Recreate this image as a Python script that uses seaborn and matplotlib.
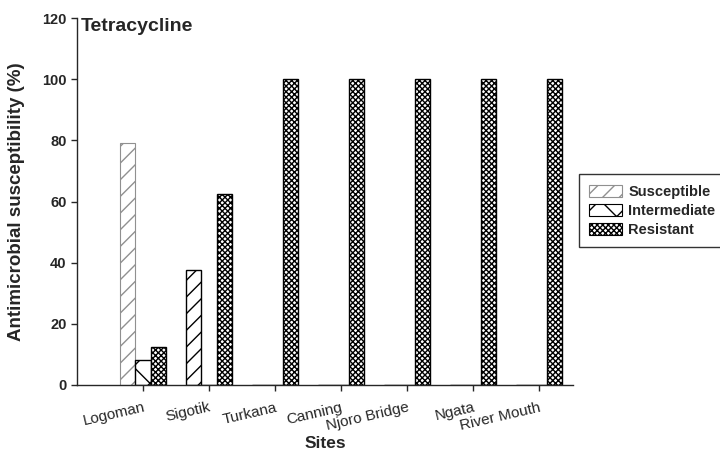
import pandas as pd
import matplotlib
matplotlib.use('Agg')
import matplotlib.pyplot as plt
import seaborn as sns
from matplotlib.patches import Patch

# Values (%)
sites = ['Logoman', 'Sigotik', 'Turkana', 'Canning', 'Njoro Bridge', 'Ngata', 'River Mouth']
susceptible = [79.2, 37.5, 0, 0, 0, 0, 0]
intermediate = [8.3, 0, 0, 0, 0, 0, 0]
resistant = [12.5, 62.5, 100, 100, 100, 100, 100]
categories = ['Susceptible', 'Intermediate', 'Resistant']
hatches = ['//', 'x', 'xxxxxx']

sns.set_style('ticks')
plt.rcParams['font.family'] = ['Liberation Sans', 'DejaVu Sans']
plt.rcParams['hatch.linewidth'] = 1.0

# long format for seaborn
df = pd.DataFrame({
    'site': sites * 3,
    'status': [c for c in categories for _ in sites],
    'value': susceptible + intermediate + resistant,
})

fig = plt.figure(figsize=(7.2, 4.54), dpi=100)
ax = fig.add_axes([0.107, 0.152, 0.689, 0.808])

sns.barplot(data=df, x='site', y='value', hue='status', hue_order=categories,
            palette=['white'] * 3, edgecolor='black', linewidth=1.0,
            width=0.7, ax=ax, errorbar=None, legend=False)

for cont, h in zip(ax.containers, hatches):
    for bar in cont:
        bar.set_hatch(h)
# the Logoman susceptible bar is drawn in grey in the original
ax.containers[0][0].set_edgecolor('#909090')
ax.containers[0][0].set_linewidth(0.8)

ax.set_xlim(-1, 6.52)
ax.set_ylim(0, 120)
ax.set_yticks(range(0, 121, 20))
ax.tick_params(axis='y', labelsize=10.5, length=4, width=1)
ax.tick_params(axis='x', labelsize=11, length=4, width=1, pad=7)
for t in ax.get_yticklabels():
    t.set_fontweight('bold')
ax.set_xticks(range(len(sites)))
ax.set_xticklabels(sites, rotation=13, ha='right', rotation_mode='anchor')
sns.despine(ax=ax)
for s in ['left', 'bottom']:
    ax.spines[s].set_linewidth(1.0)

ax.set_xlabel('Sites', fontsize=12.5, fontweight='bold', labelpad=2)
ax.set_ylabel('Antimicrobial susceptibility (%)', fontsize=13.5, fontweight='bold', labelpad=12)
ax.text(0.008, 1.0, 'Tetracycline', transform=ax.transAxes, fontsize=14,
        fontweight='bold', va='top', ha='left')

handles = [Patch(facecolor='white', edgecolor='black', hatch=h, linewidth=0.8) for h in hatches]
handles[0].set_edgecolor('#909090')
leg = ax.legend(handles, categories, loc='center left', bbox_to_anchor=(1.005, 0.475),
                frameon=True, fancybox=False, edgecolor='black', fontsize=10.5,
                handlelength=2.3, handleheight=0.9, handletextpad=0.4,
                borderpad=0.7, borderaxespad=0.2, labelspacing=0.35)
leg.get_frame().set_linewidth(1.0)
for t in leg.get_texts():
    t.set_fontweight('bold')

fig.savefig('out.png', dpi=100)
